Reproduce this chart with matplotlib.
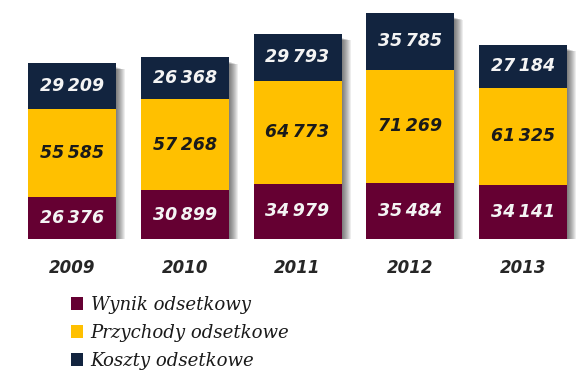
import matplotlib
matplotlib.use("Agg")
import matplotlib.pyplot as plt
import matplotlib.transforms as mtransforms
from matplotlib.patches import Patch

years = ["2009", "2010", "2011", "2012", "2013"]
wynik = [26376, 30899, 34979, 35484, 34141]
przychody = [55585, 57268, 64773, 71269, 61325]
koszty = [29209, 26368, 29793, 35785, 27184]

series_names = ["Wynik odsetkowy", "Przychody odsetkowe", "Koszty odsetkowe"]
colors = ["#650032", "#FFC000", "#12243F"]
text_colors = ["#F4F4F4", "#1A1A1A", "#F4F4F4"]

W, H = 580, 372
fig = plt.figure(figsize=(W / 100, H / 100), dpi=100)
fig.patch.set_facecolor("white")

# axes placed so the baseline sits at y=239px from top
base_px = 239
ax_h_px = 237.8
ax = fig.add_axes([0, (H - base_px) / H, 1, ax_h_px / H])
ax.set_ylim(0, 150000)
ax.set_xlim(-0.638, 4.504)
ax.axis("off")

x = list(range(len(years)))
width = 0.78
totals = [a + b + c for a, b, c in zip(wynik, przychody, koszty)]


def px_shift(dx, dy):
    return ax.transData + mtransforms.ScaledTranslation(dx / 100, dy / 100, fig.dpi_scale_trans)


# soft drop shadow behind each bar
for k in range(1, 10):
    ax.bar(x, totals, width=width, color="#000000", alpha=0.07, linewidth=0,
           transform=px_shift(k, -4 - k * 0.3), zorder=1, clip_on=True)

bottoms = [0] * len(years)
for vals, col, tcol in zip([wynik, przychody, koszty], colors, text_colors):
    ax.bar(x, vals, width=width, bottom=bottoms, color=col, linewidth=0, zorder=3)
    for xi, v, b in zip(x, vals, bottoms):
        label = f"{v:,}".replace(",", "\u2009")
        ax.text(xi, b + v / 2, label, ha="center", va="center", color=tcol,
                fontsize=12.5, fontstyle="italic", fontweight="bold",
                family="DejaVu Sans", zorder=4)
    bottoms = [b + v for b, v in zip(bottoms, vals)]

# year labels under the bars
for xi, yr in zip(x, years):
    ax.text(xi, -29.5 * 630.7, yr, ha="center", va="center", color="#262626",
            fontsize=12, fontstyle="italic", fontweight="bold",
            family="DejaVu Sans", clip_on=False)

handles = [Patch(facecolor=c, edgecolor="none") for c in colors]
leg = fig.legend(handles, series_names, loc="upper left",
                 bbox_to_anchor=(62 / W, 1 - 287 / H), frameon=False,
                 handlelength=0.68, handleheight=0.68, handletextpad=0.4,
                 labelspacing=0.55, borderpad=0,
                 prop={"family": "DejaVu Serif", "style": "italic", "size": 13.1})
for t in leg.get_texts():
    t.set_color("#1A1A1A")

fig.savefig("out.png", dpi=100, facecolor="white")
